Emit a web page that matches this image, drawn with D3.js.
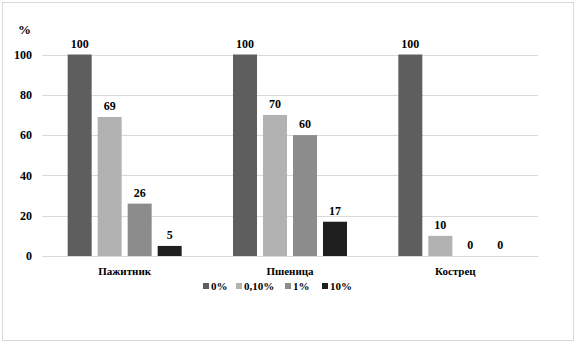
<!DOCTYPE html>
<html><head><meta charset="utf-8">
<script src="https://cdn.jsdelivr.net/npm/d3@7"></script>
<style>body{margin:0;background:#fff}svg{display:block}
svg text{font-family:"Liberation Serif",Tinos,"Times New Roman","DejaVu Serif",serif !important;font-weight:bold;fill:#000}</style>
</head><body><svg id="c" width="578" height="346"></svg>
<script>
const categories = ["Пажитник", "Пшеница", "Кострец"];
const seriesNames = ["0%", "0,10%", "1%", "10%"];
const s0 = [100, 100, 100];
const s1 = [69, 70, 10];
const s2 = [26, 60, 0];
const s3 = [5, 17, 0];
const yTicks = [0, 20, 40, 60, 80, 100];
const colors = ["#5e5e5e", "#b2b2b2", "#8c8c8c", "#1f1f1f"];
const series = [s0, s1, s2, s3];

(function () {
const svg = d3.select("#c");
svg.append("rect").attr("x", 2.5).attr("y", 2.5).attr("width", 571).attr("height", 338)
  .attr("fill", "#fff").attr("stroke", "#d9d9d9");

const pl = 42, pr = 538, pt = 54.5, pb = 256;
const x = d3.scaleBand().domain(categories).range([pl, pr]);
const xs = d3.scaleBand().domain(seriesNames).range([0, 114]).paddingInner(0.2);
const y = d3.scaleLinear().domain([0, 100]).range([pb, pt]);

const grid = svg.append("g");
grid.selectAll("line").data(yTicks).join("line")
  .attr("x1", pl).attr("x2", pr)
  .attr("y1", d => Math.round(y(d)) + 0.5).attr("y2", d => Math.round(y(d)) + 0.5)
  .attr("stroke", "#d9d9d9").attr("stroke-width", 1);

const yAxis = svg.append("g").attr("transform", `translate(${pl},0)`)
  .call(d3.axisLeft(y).tickValues(yTicks).tickSize(0).tickPadding(10));
yAxis.select(".domain").remove();
yAxis.attr("font-family", null).attr("font-size", null);
yAxis.selectAll("text").style("font-size", "12px");

svg.append("text").attr("x", 18).attr("y", 34).text("%").style("font-size", "13px");

const rows = categories.map((c, i) => seriesNames.map((s, j) => ({c, s, j, v: series[j][i]})));
const g = svg.append("g");
rows.forEach(r => {
  const gg = g.append("g").attr("transform", `translate(${x(r[0].c) + x.bandwidth() / 2 - 57},0)`);
  gg.selectAll("rect").data(r).join("rect")
    .attr("x", d => xs(d.s)).attr("width", xs.bandwidth())
    .attr("y", d => y(d.v)).attr("height", d => y(0) - y(d.v))
    .attr("fill", d => colors[d.j]);
  gg.selectAll("text").data(r).join("text")
    .attr("x", d => xs(d.s) + xs.bandwidth() / 2).attr("y", d => y(d.v) - 7)
    .attr("text-anchor", "middle").text(d => d.v).style("font-size", "12px");
});

const xAxis = svg.append("g").attr("transform", `translate(0,${pb})`)
  .call(d3.axisBottom(x).tickSize(0).tickPadding(11));
xAxis.attr("font-family", null).attr("font-size", null);
xAxis.select(".domain").attr("stroke", "#d9d9d9");
xAxis.selectAll("text").style("font-size", "11px");

const legX = [203, 236, 285, 322];
const leg = svg.append("g");
seriesNames.forEach((s, j) => {
  leg.append("rect").attr("x", legX[j]).attr("y", 283).attr("width", 6).attr("height", 6).attr("fill", colors[j]);
  leg.append("text").attr("x", legX[j] + 8).attr("y", 290).text(s).style("font-size", "11px");
});
})();
</script></body></html>
